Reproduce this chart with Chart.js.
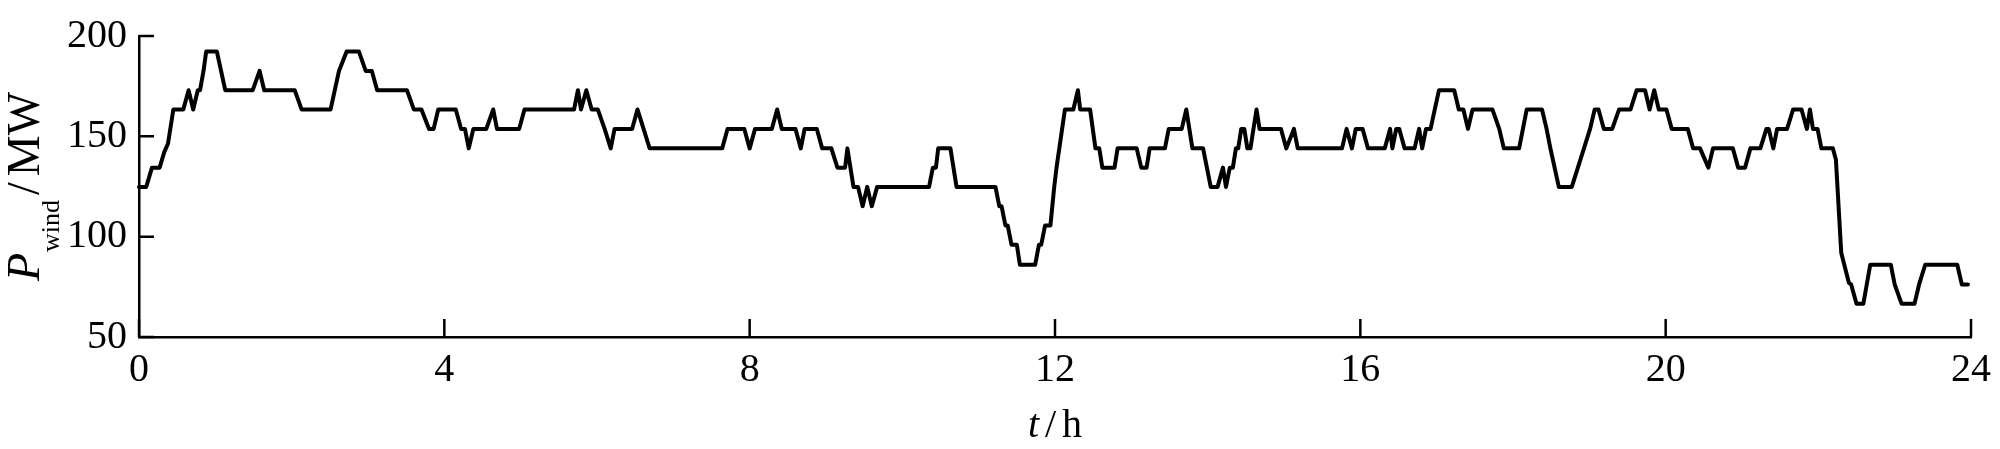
<!DOCTYPE html>
<html>
<head>
<meta charset="utf-8">
<script src="https://cdn.jsdelivr.net/npm/chart.js@4.4.1/dist/chart.umd.min.js"></script>
<style>
  html, body { margin: 0; padding: 0; background: #fff; }
  #wrap { width: 2000px; height: 449px; position: relative; }
</style>
</head>
<body>
<div id="wrap"><canvas id="wind-chart"></canvas></div>
<script>
// time (h) of each corner of the wind power curve
var hours = [
  0, 0.095, 0.17, 0.27, 0.33, 0.38, 0.45, 0.58, 0.65, 0.71, 0.77, 0.80, 0.845, 0.88, 1.02, 1.13,
  1.49, 1.58, 1.64, 2.04, 2.13, 2.51, 2.62, 2.72, 2.88, 2.97, 3.05, 3.12, 3.51, 3.60, 3.70, 3.80,
  3.86, 3.92, 4.15, 4.22, 4.27, 4.32, 4.38, 4.55, 4.64, 4.69, 4.98, 5.05, 5.70, 5.75, 5.79, 5.86,
  5.93, 6.01, 6.10, 6.18, 6.23, 6.46, 6.53, 6.61, 6.69, 7.64, 7.71, 7.93, 8.00, 8.07, 8.29, 8.36,
  8.42, 8.60, 8.67, 8.72, 8.88, 8.95, 9.07, 9.15, 9.25, 9.28, 9.36, 9.42, 9.48, 9.54, 9.60, 9.67,
  10.35, 10.40, 10.44, 10.47, 10.63, 10.71, 11.22, 11.27, 11.30, 11.35, 11.38, 11.43, 11.50, 11.54, 11.74, 11.79,
  11.82, 11.87, 11.94, 11.99, 12.02, 12.13, 12.24, 12.30, 12.33, 12.46, 12.53, 12.58, 12.62, 12.78, 12.82, 13.07,
  13.13, 13.20, 13.24, 13.44, 13.49, 13.66, 13.72, 13.80, 13.94, 14.04, 14.13, 14.20, 14.24, 14.29, 14.33, 14.37,
  14.40, 14.44, 14.48, 14.52, 14.56, 14.64, 14.68, 14.96, 15.03, 15.13, 15.18, 15.76, 15.82, 15.89, 15.94, 16.03,
  16.10, 16.32, 16.39, 16.42, 16.47, 16.51, 16.58, 16.71, 16.77, 16.81, 16.86, 16.92, 17.03, 17.23, 17.29, 17.35,
  17.41, 17.47, 17.73, 17.82, 17.88, 18.08, 18.18, 18.38, 18.44, 18.49, 18.60, 18.77, 18.85, 19.01, 19.07, 19.12,
  19.19, 19.30, 19.39, 19.54, 19.62, 19.73, 19.79, 19.85, 19.91, 20.01, 20.08, 20.29, 20.36, 20.45, 20.56, 20.62,
  20.88, 20.95, 21.04, 21.11, 21.24, 21.32, 21.35, 21.41, 21.46, 21.59, 21.67, 21.78, 21.85, 21.89, 21.93, 21.99,
  22.04, 22.19, 22.23, 22.30, 22.34, 22.40, 22.43, 22.50, 22.59, 22.68, 22.95, 23.00, 23.09, 23.26, 23.32, 23.40,
  23.82, 23.88, 23.96
];

// wind power (MW) at those times
var windPower = [
  124.8, 124.8, 134.4, 134.4, 142, 146.4, 163.4, 163.4, 173, 163.4, 173, 173, 182.6, 192.3, 192.3, 173,
  173, 182.6, 173, 173, 163.4, 163.4, 182.6, 192.3, 192.3, 182.6, 182.6, 173, 173, 163.4, 163.4, 153.7,
  153.7, 163.4, 163.4, 153.7, 153.7, 144, 153.7, 153.7, 163.4, 153.7, 153.7, 163.4, 163.4, 173, 163.4, 173,
  163.4, 163.4, 153.7, 144, 153.7, 153.7, 163.4, 153.7, 144, 144, 153.7, 153.7, 144, 153.7, 153.7, 163.4,
  153.7, 153.7, 144, 153.7, 153.7, 144, 144, 134.4, 134.4, 144, 124.8, 124.8, 115.2, 124.8, 115.2, 124.8,
  124.8, 134.4, 134.4, 144, 144, 124.8, 124.8, 115.2, 115.2, 105.6, 105.6, 96, 96, 86, 86, 96,
  96, 105.6, 105.6, 124.8, 134.4, 163.4, 163.4, 173, 163.4, 163.4, 144, 144, 134.4, 134.4, 144, 144,
  134.4, 134.4, 144, 144, 153.7, 153.7, 163.4, 144, 144, 124.8, 124.8, 134.4, 124.8, 134.4, 134.4, 144,
  144, 153.7, 153.7, 144, 144, 163.4, 153.7, 153.7, 144, 153.7, 144, 144, 153.7, 144, 153.7, 153.7,
  144, 144, 153.7, 144, 153.7, 153.7, 144, 144, 153.7, 144, 153.7, 153.7, 173, 173, 163.4, 163.4,
  153.7, 163.4, 163.4, 153.7, 144, 144, 163.4, 163.4, 153.7, 144, 124.8, 124.8, 134.4, 153.7, 163.4, 163.4,
  153.7, 153.7, 163.4, 163.4, 173, 173, 163.4, 173, 163.4, 163.4, 153.7, 153.7, 144, 144, 134.4, 144,
  144, 134.4, 134.4, 144, 144, 153.7, 153.7, 144, 153.7, 153.7, 163.4, 163.4, 153.7, 163.4, 153.7, 153.7,
  144, 144, 138.5, 92, 86, 77, 76.2, 66.6, 66.6, 86, 86, 76.2, 66.6, 66.6, 76.2, 86,
  86, 76.2, 76.2
];

var xTicks = [0, 4, 8, 12, 16, 20, 24];
var yTicks = [50, 100, 150, 200];

var serif = "'Liberation Serif', 'Times New Roman', serif";

var points = hours.map(function (t, i) {
  return { x: t, y: windPower[i] };
});

// inward tick marks + axis titles with italic / subscript parts
var axisDecor = {
  id: "axisDecor",
  afterDraw: function (chart) {
    var ctx = chart.ctx;
    var xs = chart.scales.x;
    var ys = chart.scales.y;
    var area = chart.chartArea;

    ctx.save();
    ctx.strokeStyle = "#000";
    ctx.lineWidth = 2.5;
    ctx.beginPath();
    xTicks.forEach(function (v) {
      var px = xs.getPixelForValue(v);
      ctx.moveTo(px, area.bottom);
      ctx.lineTo(px, area.bottom - 18);
    });
    yTicks.forEach(function (v) {
      var py = ys.getPixelForValue(v);
      ctx.moveTo(area.left, py);
      ctx.lineTo(area.left + 15, py);
    });
    ctx.stroke();

    ctx.fillStyle = "#000";
    ctx.textBaseline = "alphabetic";
    ctx.textAlign = "left";

    // x title: t / h
    var xParts = [
      { text: "t", font: "italic 40px " + serif, gap: 6 },
      { text: "/", font: "40px " + serif, gap: 6 },
      { text: "h", font: "40px " + serif, gap: 0 }
    ];
    var total = 0;
    xParts.forEach(function (p) {
      ctx.font = p.font;
      p.w = ctx.measureText(p.text).width;
      total += p.w + p.gap;
    });
    var cx = xs.getPixelForValue(12) - total / 2;
    xParts.forEach(function (p) {
      ctx.font = p.font;
      ctx.fillText(p.text, cx, 437);
      cx += p.w + p.gap;
    });

    // y title: P_wind / MW (rotated)
    var yParts = [
      { text: "P", font: "italic 46px " + serif, dy: 0, gap: 1 },
      { text: "wind", font: "26px " + serif, dy: 20, gap: 5 },
      { text: "/", font: "46px " + serif, dy: 0, gap: 6 },
      { text: "MW", font: "46px " + serif, dy: 0, gap: 0 }
    ];
    total = 0;
    yParts.forEach(function (p) {
      ctx.font = p.font;
      p.w = ctx.measureText(p.text).width;
      total += p.w + p.gap;
    });
    ctx.translate(39, (area.top + area.bottom) / 2);
    ctx.rotate(-Math.PI / 2);
    var cy = -total / 2;
    yParts.forEach(function (p) {
      ctx.font = p.font;
      ctx.fillText(p.text, cy, p.dy);
      cy += p.w + p.gap;
    });
    ctx.restore();
  }
};

var ctx = document.getElementById("wind-chart").getContext("2d");
var windChart = new Chart(ctx, {
  type: "line",
  data: {
    datasets: [
      {
        data: points,
        borderColor: "#000",
        borderWidth: 4,
        borderJoinStyle: "round",
        borderCapStyle: "round",
        pointRadius: 0,
        tension: 0,
        fill: false,
        clip: false
      }
    ]
  },
  options: {
    responsive: true,
    maintainAspectRatio: false,
    animation: false,
    devicePixelRatio: 1,
    layout: { padding: { top: 25, right: 25, left: 0, bottom: 0 } },
    plugins: {
      legend: { display: false },
      tooltip: { enabled: false }
    },
    scales: {
      x: {
        type: "linear",
        min: 0,
        max: 24,
        grid: { display: false, drawTicks: false },
        border: { display: true, color: "#000", width: 2.5 },
        ticks: {
          stepSize: 4,
          padding: 9,
          color: "#000",
          font: { family: serif, size: 40 }
        },
        afterFit: function (scale) { scale.height = 112; }
      },
      y: {
        min: 50,
        max: 200,
        grid: { display: false, drawTicks: false },
        border: { display: true, color: "#000", width: 2.5 },
        ticks: {
          stepSize: 50,
          padding: 12,
          color: "#000",
          font: { family: serif, size: 40 }
        },
        afterFit: function (scale) { scale.width = 139; }
      }
    }
  },
  plugins: [axisDecor]
});
</script>
</body>
</html>
